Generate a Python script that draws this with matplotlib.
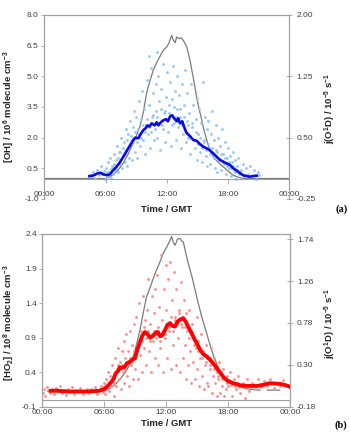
import matplotlib
matplotlib.use("Agg")
import matplotlib.pyplot as plt

plt.rcParams['font.family'] = ['Liberation Sans', 'DejaVu Sans']
plt.rcParams['mathtext.fontset'] = 'custom'
plt.rcParams['mathtext.rm'] = 'Liberation Sans:bold'
plt.rcParams['mathtext.bf'] = 'Liberation Sans:bold'
plt.rcParams['mathtext.default'] = 'bf'

# ---- (a) OH ----
# j(O1D) in panel a, hours GMT / 1e-5 s-1
ja_t = [0, 6.0, 6.4, 6.75, 7.2, 7.73, 8.2, 8.7, 9.0, 9.36, 9.7, 10.0, 10.3, 10.67, 11.0,
        11.3, 11.65, 11.98, 12.2, 12.46, 12.6, 12.8, 12.95, 13.2, 13.4, 13.6, 13.94, 14.2,
        14.43, 14.7, 14.9, 15.15, 15.4, 15.65, 15.9, 16.2, 16.5, 17.0, 17.5, 18.0, 18.5,
        19.0, 19.5, 24]
ja_v = [0, 0, 0.02, 0.05, 0.1, 0.19, 0.3, 0.43, 0.52, 0.64, 0.82, 1.04, 1.18, 1.33, 1.42,
        1.49, 1.57, 1.61, 1.66, 1.75, 1.70, 1.66, 1.73, 1.71, 1.72, 1.69, 1.61, 1.48,
        1.33, 1.15, 1.0, 0.85, 0.72, 0.58, 0.47, 0.35, 0.27, 0.2, 0.145, 0.09, 0.04,
        0.015, 0, 0]

# OH running mean, 1e6 molecule cm-3
oh_t = [4.4, 4.8, 5.2, 5.5, 5.8, 6.1, 6.4, 6.75, 7.1, 7.4, 7.73, 8.0, 8.3, 8.7, 8.9, 9.2,
        9.4, 9.7, 9.9, 10.1, 10.3, 10.5, 10.8, 11.0, 11.16, 11.4, 11.65, 11.9, 12.1, 12.3,
        12.5, 12.7, 12.96, 13.1, 13.28, 13.5, 13.7, 13.9, 14.2, 14.58, 14.9, 15.2, 15.56,
        15.8, 16.1, 16.54, 16.9, 17.2, 17.6, 18.18, 18.5, 18.8, 19.16, 19.5, 19.8, 20.1,
        20.4, 20.8]
oh_v = [0.12, 0.15, 0.25, 0.28, 0.2, 0.17, 0.2, 0.42, 0.6, 0.8, 1.07, 1.3, 1.55, 1.89, 2.0,
        1.97, 2.15, 2.38, 2.45, 2.6, 2.54, 2.7, 2.6, 2.75, 2.6, 2.75, 2.85, 2.9, 2.8, 3.03,
        3.1, 2.95, 2.8, 2.95, 2.7, 2.8, 2.5, 2.25, 2.1, 1.89, 1.85, 1.7, 1.56, 1.5, 1.42,
        1.23, 1.05, 0.91, 0.8, 0.66, 0.5, 0.4, 0.26, 0.15, 0.12, 0.09, 0.12, 0.14]

# individual OH points
ohp_t = [4.6, 4.8, 5.0, 5.2, 5.3, 5.5, 5.6, 5.8, 5.9,
         6.0, 6.1, 6.2, 6.3, 6.4, 6.5, 6.6, 6.7, 6.8, 6.9,
         7.0, 7.1, 7.2, 7.3, 7.4, 7.5, 7.6, 7.7, 7.8, 7.9, 7.95,
         8.0, 8.1, 8.2, 8.3, 8.4, 8.5, 8.6, 8.7, 8.8, 8.9, 8.95,
         9.0, 9.1, 9.2, 9.3, 9.4, 9.5, 9.6, 9.7, 9.8, 9.9, 9.95,
         10.0, 10.1, 10.2, 10.3, 10.4, 10.5, 10.6, 10.7, 10.8, 10.9, 10.95, 10.2,
         11.0, 11.1, 11.2, 11.3, 11.4, 11.5, 11.6, 11.7, 11.8, 11.9, 11.95, 11.05,
         12.0, 12.1, 12.2, 12.3, 12.4, 12.5, 12.6, 12.7, 12.8, 12.9, 12.95,
         13.0, 13.1, 13.2, 13.3, 13.4, 13.5, 13.6, 13.7, 13.8, 13.9, 13.95,
         14.0, 14.1, 14.2, 14.3, 14.4, 14.5, 14.6, 14.7, 14.8, 14.9, 14.95,
         15.0, 15.1, 15.2, 15.3, 15.4, 15.5, 15.6, 15.7, 15.8, 15.9, 15.95,
         16.0, 16.1, 16.2, 16.3, 16.4, 16.5, 16.6, 16.7, 16.8, 16.9, 16.95,
         17.0, 17.1, 17.2, 17.3, 17.4, 17.5, 17.6, 17.7, 17.8, 17.9,
         18.0, 18.1, 18.2, 18.3, 18.4, 18.5, 18.6, 18.7, 18.8, 18.9,
         19.0, 19.2, 19.4, 19.5, 19.7, 19.9,
         20.1, 20.3, 20.5, 20.7, 20.9, 21.0,
         6.15, 6.55, 6.85, 7.05, 7.25, 7.45, 7.65, 7.85, 8.05, 8.25, 8.45, 8.65, 8.85,
         9.05, 9.25, 9.45, 9.65, 9.85, 10.05, 10.25, 10.45, 10.65, 10.85, 11.05, 11.25,
         11.45, 11.65, 11.85, 12.05, 12.25, 12.45, 12.65, 12.85, 13.05, 13.25, 13.45,
         13.65, 13.85, 14.05, 14.25, 14.45, 14.65, 14.85, 15.05, 15.25, 15.45, 15.65,
         15.85, 16.05, 16.25, 16.45, 16.65, 16.85, 17.05, 17.25, 17.45, 17.65, 17.85,
         18.05, 18.25, 18.45, 18.65, 18.85, 19.1, 19.3, 19.6]
ohp_v = [0.1, 0.3, 0.05, 0.4, 0.15, 0.6, 0.2, 0.35, 0.0,
         0.5, 0.1, 0.8, 0.3, 1.0, 0.05, 0.6, 0.2, 1.2, 0.4,
         0.9, 1.6, 0.3, 1.3, 0.7, 2.0, 0.5, 1.1, 1.8, 0.8, 2.4,
         1.4, 0.6, 2.2, 1.0, 2.8, 1.7, 0.9, 2.5, 3.3, 1.3, 2.0,
         3.0, 1.0, 2.4, 3.8, 1.6, 2.9, 4.3, 1.9, 3.4, 1.2, 2.6,
         4.8, 2.2, 3.6, 1.5, 5.4, 3.0, 4.2, 1.9, 2.7, 4.6, 3.3, 6.0,
         2.0, 5.0, 3.8, 1.4, 4.4, 2.6, 5.6, 3.2, 1.8, 4.0, 2.9, 6.2,
         5.2, 2.3, 3.6, 4.7, 1.6, 3.9, 5.5, 2.7, 4.3, 1.9, 3.4,
         5.0, 2.5, 4.1, 3.0, 1.5, 4.6, 2.2, 3.6, 5.3, 1.8, 2.8,
         4.2, 2.0, 3.2, 1.2, 4.6, 2.5, 3.6, 1.5, 2.9, 0.9, 3.9,
         2.2, 3.4, 1.3, 2.7, 0.8, 4.7, 1.9, 3.0, 1.1, 2.4, 0.6,
         2.8, 1.5, 0.7, 2.2, 3.3, 1.1, 1.9, 0.5, 2.6, 1.3, 0.3,
         2.0, 0.9, 1.6, 0.4, 2.4, 1.2, 0.7, 1.8, 0.2, 1.0,
         1.5, 0.5, 1.1, 0.1, 0.8, 1.3, 0.4, 0.9, 0.0, 0.6,
         1.0, 0.3, 0.7, 0.1, 0.5, 0.2,
         0.6, 0.1, 0.4, 0.0, 0.3, 0.15,
         0.3, 0.45, 0.7, 0.5, 1.0, 1.3, 1.5, 1.2, 1.9, 1.6, 2.1, 1.8, 2.3,
         1.8, 2.2, 2.0, 2.6, 2.3, 2.9, 2.5, 2.3, 3.1, 2.4, 3.0, 2.7,
         3.4, 2.4, 3.3, 2.9, 3.2, 2.6, 3.5, 3.0, 2.8, 3.4, 2.6,
         3.0, 2.3, 2.6, 2.1, 2.7, 1.9, 2.3, 1.7, 2.0, 1.5, 1.8,
         1.4, 1.7, 1.2, 1.5, 1.0, 1.4, 0.9, 1.2, 0.8, 1.0, 0.6,
         0.8, 0.5, 0.6, 0.3, 0.4, 0.2, 0.4, 0.15]

# ---- (b) HO2 ----
jb_t = [0.5, 6.0, 6.2, 6.7, 7.2, 7.7, 8.18, 8.5, 8.82, 9.1, 9.47, 9.8, 10.1, 10.43, 10.75,
        11.08, 11.4, 11.72, 12.1, 12.35, 12.53, 12.7, 12.86, 13.1, 13.34, 13.5, 13.66,
        13.9, 14.15, 14.5, 14.8, 15.1, 15.45, 15.8, 16.1, 16.4, 16.73, 17.05, 17.38,
        17.8, 18.19, 18.7, 19.16, 19.6, 20.1, 21.1, 21.5, 21.8, 23.0]
jb_v = [0, 0, 0.01, 0.04, 0.09, 0.16, 0.24, 0.31, 0.40, 0.52, 0.70, 0.91, 1.08, 1.18, 1.29,
        1.39, 1.48, 1.58, 1.66, 1.72, 1.77, 1.70, 1.67, 1.74, 1.75, 1.72, 1.71,
        1.58, 1.46, 1.31, 1.16, 1.01, 0.85, 0.71, 0.59, 0.47, 0.36, 0.27, 0.20,
        0.14, 0.11, 0.07, 0.05, 0.03, 0.02, 0.01, None, 0.01, 0.01]

# HO2 running mean, 1e8 molecule cm-3
ho2_t = [0.8, 1.5, 2.5, 3.5, 4.5, 5.5, 5.9, 6.2, 6.4, 6.7, 6.9, 7.1, 7.36, 7.5, 7.69, 8.0,
         8.2, 8.5, 8.7, 8.98, 9.2, 9.47, 9.7, 9.95, 10.2, 10.43, 10.7, 11.0, 11.2, 11.4,
         11.6, 11.9, 12.1, 12.37, 12.6, 12.86, 13.1, 13.34, 13.66, 13.9, 14.2, 14.48,
         14.7, 14.96, 15.3, 15.6, 16.0, 16.25, 16.6, 16.9, 17.2, 17.54, 18.0, 18.5, 19.2,
         19.8, 20.8, 21.5, 22.06, 23.0, 23.6, 24.0]
ho2_v = [0.13, 0.13, 0.12, 0.12, 0.12, 0.13, 0.15, 0.18, 0.21, 0.26, 0.3, 0.38, 0.42, 0.47,
         0.46, 0.48, 0.53, 0.55, 0.58, 0.60, 0.72, 0.84, 0.93, 0.98, 0.95, 0.90, 0.92,
         0.97, 0.98, 0.92, 0.93, 1.01, 1.08, 1.11, 1.07, 1.06, 1.13, 1.16, 1.18, 1.13,
         1.04, 0.96, 0.89, 0.82, 0.72, 0.66, 0.62, 0.58, 0.52, 0.46, 0.40, 0.33, 0.27,
         0.24, 0.21, 0.20, 0.20, 0.22, 0.24, 0.23, 0.21, 0.19]

# individual HO2 points
ho2p_t = [0.05, 0.2, 0.3, 0.5, 0.7, 0.9, 1.1, 1.3, 1.5, 1.7, 1.9, 2.1, 2.3, 2.5, 2.7, 2.9,
          3.1, 3.3, 3.5, 3.7, 3.9, 4.1, 4.3, 4.5, 4.7, 4.9, 5.1, 5.3, 5.5, 5.7, 5.9,
          6.0, 6.1, 6.2, 6.3, 6.4, 6.5, 6.6, 6.7, 6.8, 6.9, 6.95,
          7.0, 7.1, 7.2, 7.3, 7.4, 7.5, 7.6, 7.7, 7.8, 7.9, 7.95,
          8.0, 8.1, 8.2, 8.3, 8.4, 8.5, 8.6, 8.7, 8.8, 8.9, 8.95,
          9.0, 9.1, 9.2, 9.3, 9.4, 9.5, 9.6, 9.7, 9.8, 9.9, 9.95,
          10.0, 10.1, 10.2, 10.3, 10.4, 10.5, 10.6, 10.7, 10.8, 10.9, 10.95,
          11.0, 11.1, 11.2, 11.3, 11.4, 11.5, 11.6, 11.7, 11.8, 11.9, 11.95,
          12.0, 12.1, 12.2, 12.3, 12.4, 12.5, 12.6, 12.7, 12.8, 12.9, 12.95,
          13.0, 13.1, 13.2, 13.3, 13.4, 13.5, 13.6, 13.7, 13.8, 13.9, 13.95,
          14.0, 14.1, 14.2, 14.3, 14.4, 14.5, 14.6, 14.7, 14.8, 14.9, 14.95,
          15.0, 15.1, 15.2, 15.3, 15.4, 15.5, 15.6, 15.7, 15.8, 15.9, 15.95,
          16.0, 16.1, 16.2, 16.3, 16.4, 16.5, 16.6, 16.7, 16.8, 16.9, 16.95,
          17.0, 17.1, 17.2, 17.3, 17.4, 17.5, 17.6, 17.7, 17.8, 17.9,
          18.0, 18.2, 18.4, 18.6, 18.8, 19.0, 19.2, 19.4, 19.6, 19.8, 19.9,
          20.0, 20.3, 20.6, 20.9, 21.2, 21.5, 21.8, 22.1, 22.4, 22.7, 23.0, 23.3, 23.6, 23.9,
          6.25, 6.75, 7.15, 7.35, 7.55, 7.75, 8.05, 8.25, 8.45, 8.65, 8.85, 9.05, 9.25,
          9.45, 9.65, 9.85, 10.05, 10.25, 10.45, 10.65, 10.85, 11.05, 11.25, 11.45, 11.65,
          11.85, 12.05, 12.25, 12.45, 12.65, 12.85, 13.05, 13.25, 13.45, 13.65, 13.85,
          14.05, 14.25, 14.45, 14.65, 14.85, 15.05, 15.25, 15.45, 15.65, 15.85, 16.05,
          16.25, 16.45, 16.65, 16.85, 17.05, 17.25, 17.45, 17.65, 17.85, 18.1, 18.3, 18.5,
          18.7, 18.9, 19.1, 19.3, 19.5, 19.7]
ho2p_v = [0.1, 0.15, 0.05, 0.18, 0.1, 0.15, 0.08, 0.17, 0.12, 0.2, 0.1, 0.14, 0.07, 0.16,
          0.11, 0.19, 0.09, 0.14, 0.12, 0.17, 0.08, 0.13, 0.16, 0.1, 0.15, 0.12, 0.18,
          0.09, 0.14, 0.2, 0.11,
          0.25, 0.08, 0.3, 0.15, 0.4, 0.12, 0.35, 0.2, 0.5, 0.25, 0.05,
          0.6, 0.2, 0.45, 0.75, 0.3, 0.55, 0.15, 0.7, 0.4, 0.85, 0.25,
          0.6, 0.95, 0.35, 0.7, 0.2, 1.0, 0.5, 0.8, 0.3, 1.1, 0.65,
          0.45, 1.2, 0.8, 0.3, 1.4, 0.65, 1.0, 0.4, 1.5, 0.75, 1.15,
          0.5, 1.3, 1.75, 0.7, 1.1, 0.4, 1.5, 0.85, 1.25, 0.6, 1.6,
          1.0, 1.8, 0.5, 1.35, 0.75, 2.1, 1.15, 0.4, 1.6, 0.9, 1.95,
          1.3, 0.6, 1.75, 1.0, 2.0, 0.45, 1.45, 0.8, 1.85, 1.2, 0.5,
          1.6, 0.9, 1.3, 0.4, 1.7, 1.05, 0.6, 1.45, 0.8, 1.25, 0.3,
          1.05, 0.5, 1.3, 0.7, 0.25, 1.1, 0.55, 0.9, 0.3, 0.75, 1.2,
          0.45, 0.85, 0.2, 0.6, 0.95, 0.35, 0.7, 0.15, 0.5, 0.8, 0.25,
          0.6, 0.2, 0.45, 0.75, 0.1, 0.35, 0.6, 0.25, 0.5, 0.05, 0.4,
          0.3, 0.55, 0.1, 0.4, 0.2, 0.45, 0.05, 0.3, 0.15, 0.35,
          0.2, 0.4, 0.05, 0.3, 0.15, 0.35, 0.1, 0.25, 0.02, 0.3, 0.18,
          0.12, 0.25, 0.15, 0.3, 0.18, 0.27, 0.2, 0.3, 0.17, 0.25, 0.2, 0.28, 0.22, 0.18,
          0.2, 0.3, 0.4, 0.5, 0.45, 0.5, 0.45, 0.55, 0.6, 0.55, 0.7, 0.65, 0.8,
          0.9, 0.85, 1.05, 0.9, 1.0, 0.85, 0.95, 1.0, 0.9, 1.05, 0.85, 1.0,
          0.95, 1.1, 1.05, 1.2, 1.0, 1.15, 1.1, 1.25, 1.1, 1.2, 1.05,
          1.0, 0.9, 0.95, 0.8, 0.85, 0.7, 0.75, 0.6, 0.65, 0.55, 0.6,
          0.5, 0.55, 0.45, 0.5, 0.35, 0.4, 0.3, 0.32, 0.25, 0.28, 0.22, 0.25,
          0.2, 0.24, 0.18, 0.22, 0.2, 0.17]

hour_ticks = [0, 6, 12, 18, 24]
hour_labels = ["00:00", "06:00", "12:00", "18:00", "00:00"]

oh_ticks = [-1.0, 0.5, 2.0, 3.5, 5.0, 6.5, 8.0]
ja_ticks = [-0.25, 0.50, 1.25, 2.00]
ho2_ticks = [-0.1, 0.4, 0.9, 1.4, 1.9, 2.4]
jb_ticks = [-0.18, 0.30, 0.78, 1.26, 1.74]

spine_c = '#a0a0a0'
text_c = '#404040'

fig = plt.figure(figsize=(3.49, 4.32), dpi=100)


def style(ax, axr):
    for a in (ax, axr):
        for s in a.spines.values():
            s.set_color(spine_c)
            s.set_linewidth(0.8)
    ax.tick_params(axis='y', colors=spine_c, labelcolor=text_c, labelsize=6,
                   length=2, width=0.6, pad=2)
    axr.tick_params(axis='y', colors=spine_c, labelcolor=text_c, labelsize=6,
                    length=4, width=0.6, pad=3, direction='inout')
    ax.set_xlim(0, 24)
    ax.set_xticks(hour_ticks)
    ax.set_xticklabels(hour_labels)


# panel a
ax1 = fig.add_axes([0.1272, 0.5394, 0.7023, 0.4259])
ax1r = ax1.twinx()
ax1.scatter(ohp_t, ohp_v, s=4, color='#93c6f3', linewidths=0, zorder=1)
ax1r.plot(ja_t, ja_v, color='#7a7a7a', lw=0.9, zorder=2)
ax1.plot(oh_t, oh_v, color='#0a0ae6', lw=1.9, zorder=3)
ax1.set_zorder(ax1r.get_zorder() + 1)
ax1.patch.set_visible(False)
ax1.set_ylim(-1.0, 8.0)
ax1.set_yticks(oh_ticks)
ax1.set_yticklabels([f"{v:.1f}" for v in oh_ticks])
ax1r.set_ylim(-0.25, 2.00)
ax1r.set_yticks(ja_ticks)
ax1r.set_yticklabels([f"{v:.2f}" for v in ja_ticks])
style(ax1, ax1r)
ax1.spines['bottom'].set_position(('data', 0))
ax1r.spines['bottom'].set_visible(False)
ax1.tick_params(axis='x', colors=spine_c, labelcolor=text_c, labelsize=6,
                length=3, width=0.6, pad=6)

# panel b
ax2 = fig.add_axes([0.1212, 0.0586, 0.7098, 0.3998])
ax2r = ax2.twinx()
ax2.scatter(ho2p_t, ho2p_v, s=4, color='#ff8a8a', linewidths=0, zorder=1)
ax2.axhline(0, color=spine_c, lw=0.8, zorder=1)
ax2r.plot(jb_t, [float('nan') if v is None else v for v in jb_v],
          color='#7a7a7a', lw=0.9, zorder=2)
ax2.plot(ho2_t, ho2_v, color='#ff0000', lw=2.8, zorder=3)
ax2.set_zorder(ax2r.get_zorder() + 1)
ax2.patch.set_visible(False)
ax2.set_ylim(-0.1, 2.4)
ax2.set_yticks(ho2_ticks)
ax2.set_yticklabels([f"{v:.1f}" for v in ho2_ticks])
ax2r.set_ylim(-0.18, 1.80)
ax2r.set_yticks(jb_ticks)
ax2r.set_yticklabels([f"{v:.2f}" for v in jb_ticks])
style(ax2, ax2r)
ax2.tick_params(axis='x', colors=spine_c, labelcolor=text_c, labelsize=6,
                length=4, width=0.6, pad=2, direction='in')

# axis titles
lab = dict(fontsize=6.8, fontweight='bold', color='#222222', ha='center', va='center')
fig.text(9 / 349, 1 - 107 / 432, r"[OH] / 10$^{6}$ molecule cm$^{-3}$", rotation=90, **lab)
fig.text(330 / 349, 1 - 108 / 432, r"j(O$^{1}$D) / 10$^{-5}$ s$^{-1}$", rotation=90, **lab)
fig.text(167 / 349, 1 - 209 / 432, "Time / GMT", **lab)
fig.text(9 / 349, 1 - 323 / 432, r"[HO$_{2}$] / 10$^{8}$ molecule cm$^{-3}$", rotation=90, **lab)
fig.text(330 / 349, 1 - 323 / 432, r"j(O$^{1}$D) / 10$^{-5}$ s$^{-1}$", rotation=90, **lab)
fig.text(167 / 349, 1 - 423 / 432, "Time / GMT", **lab)
fig.text(347.5 / 349, 1 - 209 / 432, "(a)", fontsize=7.5, fontweight='bold',
         family='Liberation Serif', ha='right', va='center')
fig.text(347.5 / 349, 1 - 425 / 432, "(b)", fontsize=7.5, fontweight='bold',
         family='Liberation Serif', ha='right', va='center')

fig.savefig('out.png', dpi=100)
